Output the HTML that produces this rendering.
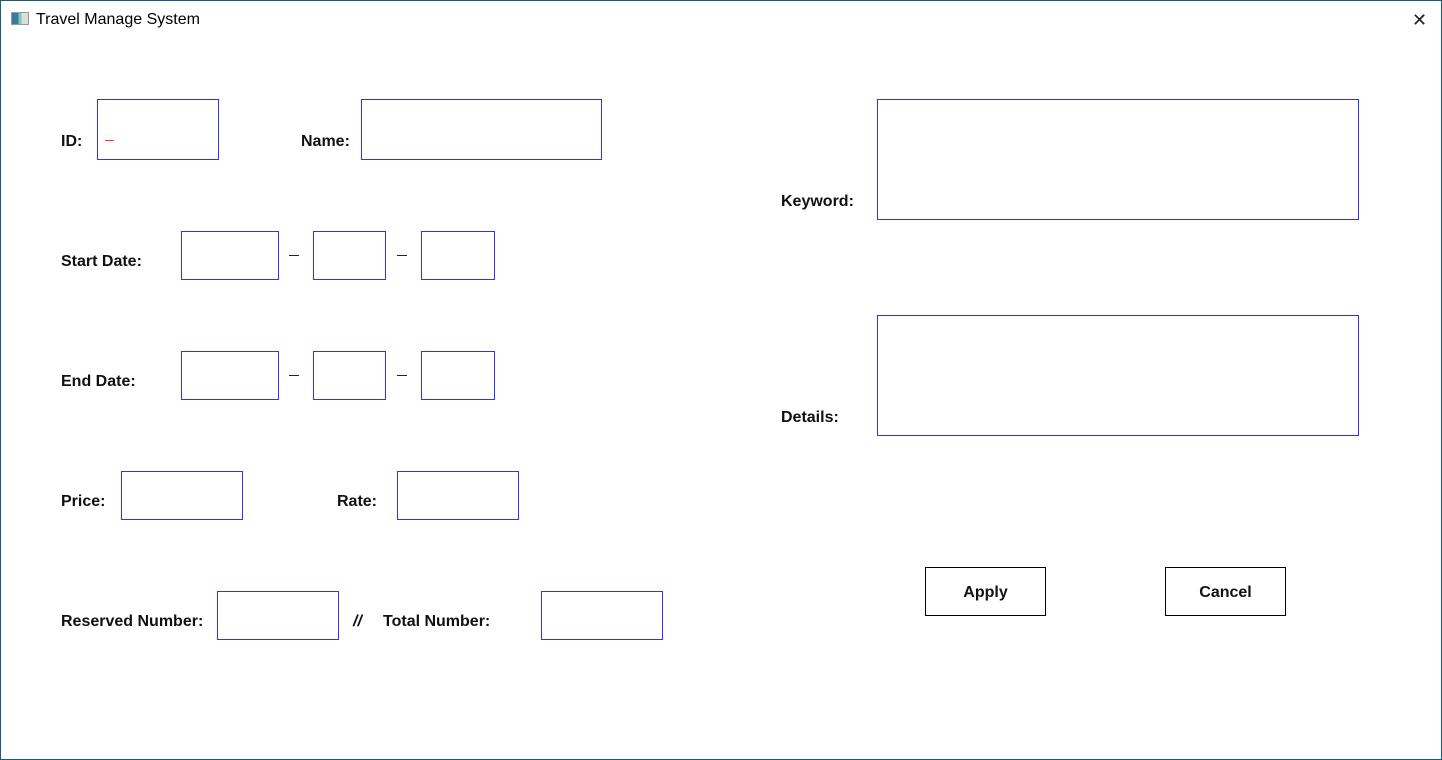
<!DOCTYPE html>
<html><head><style>
*{margin:0;padding:0;box-sizing:border-box}
body{width:1442px;height:760px;background:#fff;position:relative;overflow:hidden;font-family:"Liberation Sans",sans-serif}
#win{position:absolute;left:0;top:0;width:1442px;height:760px;border:1px solid #1b5a74}
.b{position:absolute;border:1px solid #3030f0}
.k{position:absolute;border:1px solid #000;font-weight:bold;font-size:16px;text-align:center;line-height:49px;color:#111}
.l{position:absolute;font-weight:bold;font-size:16px;color:#111;line-height:20px;transform:translateY(-8px)}
.d{position:absolute;width:10px;height:1px;background:#222}
</style></head><body>
<div id="win"></div>
<div style="position:absolute;left:11px;top:12px;width:18px;height:13px;border:1px solid #999;background:linear-gradient(90deg,#3a7a9a 0 40%,#7cb 40% 60%,#ddd 60%)"></div>
<div style="position:absolute;left:36px;top:11px;font-size:16px;color:#000">Travel Manage System</div>
<div style="position:absolute;left:1412px;top:10px;font-size:18px;color:#222;line-height:20px;font-weight:300">✕</div>

<div class="l" style="left:61px;top:140px">ID:</div>
<div class="b" style="left:97px;top:99px;width:122px;height:61px"></div>
<div style="position:absolute;left:105px;top:140px;width:9px;height:1px;background:#f33"></div>
<div class="l" style="left:301px;top:140px">Name:</div>
<div class="b" style="left:361px;top:99px;width:241px;height:61px"></div>

<div class="l" style="left:61px;top:260px">Start Date:</div>
<div class="b" style="left:181px;top:231px;width:98px;height:49px"></div>
<div class="d" style="left:289px;top:255px"></div>
<div class="b" style="left:313px;top:231px;width:73px;height:49px"></div>
<div class="d" style="left:397px;top:255px"></div>
<div class="b" style="left:421px;top:231px;width:74px;height:49px"></div>

<div class="l" style="left:61px;top:380px">End Date:</div>
<div class="b" style="left:181px;top:351px;width:98px;height:49px"></div>
<div class="d" style="left:289px;top:375px"></div>
<div class="b" style="left:313px;top:351px;width:73px;height:49px"></div>
<div class="d" style="left:397px;top:375px"></div>
<div class="b" style="left:421px;top:351px;width:74px;height:49px"></div>

<div class="l" style="left:61px;top:500px">Price:</div>
<div class="b" style="left:121px;top:471px;width:122px;height:49px"></div>
<div class="l" style="left:337px;top:500px">Rate:</div>
<div class="b" style="left:397px;top:471px;width:122px;height:49px"></div>

<div class="l" style="left:61px;top:620px">Reserved Number:</div>
<div class="b" style="left:217px;top:591px;width:122px;height:49px"></div>
<div class="l" style="left:353px;top:620px;font-style:italic">//</div>
<div class="l" style="left:383px;top:620px">Total Number:</div>
<div class="b" style="left:541px;top:591px;width:122px;height:49px"></div>

<div class="l" style="left:781px;top:200px">Keyword:</div>
<div class="b" style="left:877px;top:99px;width:482px;height:121px"></div>
<div class="l" style="left:781px;top:416px">Details:</div>
<div class="b" style="left:877px;top:315px;width:482px;height:121px"></div>

<div class="k" style="left:925px;top:567px;width:121px;height:49px">Apply</div>
<div class="k" style="left:1165px;top:567px;width:121px;height:49px">Cancel</div>
</body></html>
